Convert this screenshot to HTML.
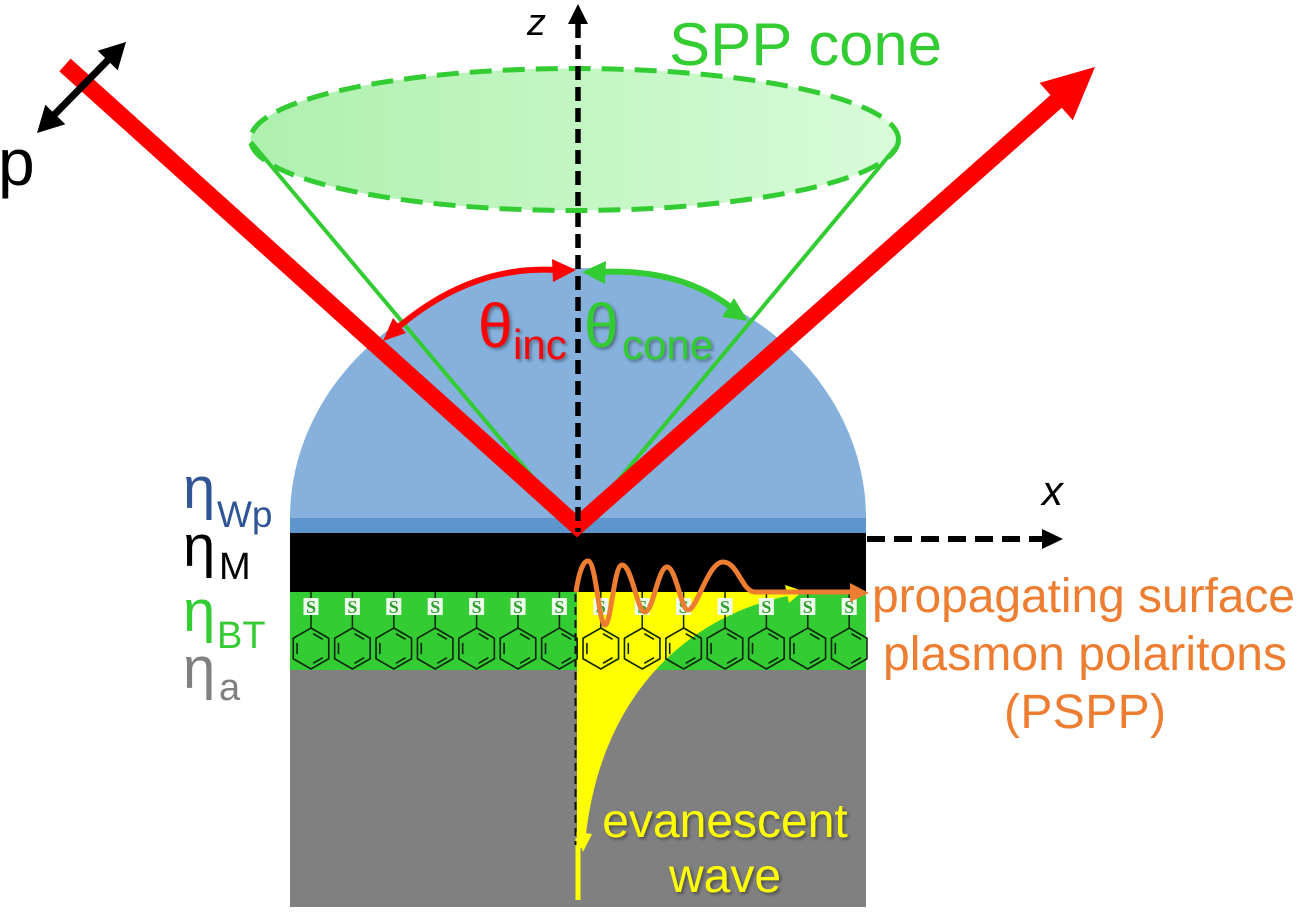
<!DOCTYPE html>
<html>
<head>
<meta charset="utf-8">
<style>
  html, body { margin: 0; padding: 0; background: #ffffff; }
  svg { display: block; }
  text { font-family: "Liberation Sans", Arial, sans-serif; }
</style>
</head>
<body>
<svg width="1300" height="912" viewBox="0 0 1300 912" xmlns="http://www.w3.org/2000/svg">
  <defs>
    <linearGradient id="coneg" x1="0" y1="0" x2="1" y2="0">
      <stop offset="0" stop-color="#aef0ae"/>
      <stop offset="1" stop-color="#d9fbd9"/>
    </linearGradient>
    <filter id="sh" x="-20%" y="-20%" width="140%" height="140%">
      <feDropShadow dx="2" dy="2" stdDeviation="1.5" flood-color="#000" flood-opacity="0.4"/>
    </filter>
    <g id="ring" fill="none" stroke="#0c240c" stroke-width="1.6">
      <polygon points="0,-20.5 17.75,-10.25 17.75,10.25 0,20.5 -17.75,10.25 -17.75,-10.25"/>
      <line x1="2.1" y1="-14.8" x2="11.8" y2="-9.2"/>
      <line x1="11.8" y1="9.2" x2="2.1" y2="14.8"/>
      <line x1="-13.9" y1="5.6" x2="-13.9" y2="-5.6"/>
    </g>
  </defs>

  <!-- Hemisphere prism -->
  <path d="M 290 518 A 288 250 0 0 1 866 518 Z" fill="#86b1dc"/>
  <rect x="290" y="518" width="576" height="15" fill="#5f95cd"/>
  <!-- Metal layer -->
  <rect x="290" y="533" width="576" height="59" fill="#000000"/>
  <!-- BT layer -->
  <rect x="290" y="592" width="576" height="78" fill="#33cc33"/>
  <!-- analyte -->
  <rect x="290" y="670" width="576" height="237" fill="#808080"/>

  <!-- Evanescent yellow region -->
  <path d="M 577 592 L 792 592 C 700 610 600 680 582 848 L 577 848 Z" fill="#ffff00"/>
  <path d="M 790 593 C 700 610 600 680 583 838" fill="none" stroke="#ffff00" stroke-width="5"/>
  <polygon points="803,591 785,585 789,603" fill="#ffff00"/>
  <polygon points="583,852 575,832 592,834" fill="#ffff00"/>
  <line x1="578" y1="838" x2="578" y2="900" stroke="#ffff00" stroke-width="5"/>
  <!-- thin dashed axis below -->
  <line x1="575.5" y1="594" x2="575.5" y2="845" stroke="#111" stroke-width="2" stroke-dasharray="8 5"/>

  <!-- Molecules -->
  <g>
    <g stroke="#0c240c" stroke-width="1.5">
      <line x1="311" y1="592" x2="311" y2="628"/>
      <line x1="352.4" y1="592" x2="352.4" y2="628"/>
      <line x1="393.8" y1="592" x2="393.8" y2="628"/>
      <line x1="435.2" y1="592" x2="435.2" y2="628"/>
      <line x1="476.6" y1="592" x2="476.6" y2="628"/>
      <line x1="518" y1="592" x2="518" y2="628"/>
      <line x1="559.4" y1="592" x2="559.4" y2="628"/>
      <line x1="600.8" y1="592" x2="600.8" y2="628"/>
      <line x1="642.2" y1="592" x2="642.2" y2="628"/>
      <line x1="683.6" y1="592" x2="683.6" y2="628"/>
      <line x1="725" y1="592" x2="725" y2="628"/>
      <line x1="766.4" y1="592" x2="766.4" y2="628"/>
      <line x1="807.8" y1="592" x2="807.8" y2="628"/>
      <line x1="849.2" y1="592" x2="849.2" y2="628"/>
    </g>
    <use href="#ring" x="311" y="648.5"/>
    <use href="#ring" x="352.4" y="648.5"/>
    <use href="#ring" x="393.8" y="648.5"/>
    <use href="#ring" x="435.2" y="648.5"/>
    <use href="#ring" x="476.6" y="648.5"/>
    <use href="#ring" x="518" y="648.5"/>
    <use href="#ring" x="559.4" y="648.5"/>
    <use href="#ring" x="600.8" y="648.5"/>
    <use href="#ring" x="642.2" y="648.5"/>
    <use href="#ring" x="683.6" y="648.5"/>
    <use href="#ring" x="725" y="648.5"/>
    <use href="#ring" x="766.4" y="648.5"/>
    <use href="#ring" x="807.8" y="648.5"/>
    <use href="#ring" x="849.2" y="648.5"/>
    <g fill="#eefcee">
      <rect x="303.5" y="598" width="15" height="17"/>
      <rect x="344.9" y="598" width="15" height="17"/>
      <rect x="386.3" y="598" width="15" height="17"/>
      <rect x="427.7" y="598" width="15" height="17"/>
      <rect x="469.1" y="598" width="15" height="17"/>
      <rect x="510.5" y="598" width="15" height="17"/>
      <rect x="551.9" y="598" width="15" height="17"/>
      <rect x="593.3" y="598" width="15" height="17"/>
      <rect x="634.7" y="598" width="15" height="17"/>
      <rect x="676.1" y="598" width="15" height="17"/>
      <rect x="717.5" y="598" width="15" height="17"/>
      <rect x="758.9" y="598" width="15" height="17"/>
      <rect x="800.3" y="598" width="15" height="17"/>
      <rect x="841.7" y="598" width="15" height="17"/>
    </g>
    <g fill="#2e9e2e" font-weight="bold" font-size="18" text-anchor="middle">
      <text x="311" y="613" style="font-family:'Liberation Serif',serif">S</text>
      <text x="352.4" y="613" style="font-family:'Liberation Serif',serif">S</text>
      <text x="393.8" y="613" style="font-family:'Liberation Serif',serif">S</text>
      <text x="435.2" y="613" style="font-family:'Liberation Serif',serif">S</text>
      <text x="476.6" y="613" style="font-family:'Liberation Serif',serif">S</text>
      <text x="518" y="613" style="font-family:'Liberation Serif',serif">S</text>
      <text x="559.4" y="613" style="font-family:'Liberation Serif',serif">S</text>
      <text x="600.8" y="613" style="font-family:'Liberation Serif',serif">S</text>
      <text x="642.2" y="613" style="font-family:'Liberation Serif',serif">S</text>
      <text x="683.6" y="613" style="font-family:'Liberation Serif',serif">S</text>
      <text x="725" y="613" style="font-family:'Liberation Serif',serif">S</text>
      <text x="766.4" y="613" style="font-family:'Liberation Serif',serif">S</text>
      <text x="807.8" y="613" style="font-family:'Liberation Serif',serif">S</text>
      <text x="849.2" y="613" style="font-family:'Liberation Serif',serif">S</text>
    </g>
  </g>

  <!-- Orange PSPP wave -->
  <path d="M 576 592 C 579 572, 583 561, 588 561 C 596 561, 599 625, 605 625 C 611 625, 614 565, 622 565 C 632 565, 637 612, 645 612 C 653 612, 658 567, 667 567 C 676 567, 681 610, 688 610 C 697 610, 708 562, 723 562 C 738 562, 742 592, 755 592 L 852 592" fill="none" stroke="#ed7d31" stroke-width="5" stroke-linejoin="round"/>
  <polygon points="869,593 850,583 850,602" fill="#ed7d31"/>

  <!-- SPP cone ellipse -->
  <ellipse cx="574.5" cy="139.5" rx="324" ry="71" fill="url(#coneg)" stroke="#33cc33" stroke-width="5" stroke-dasharray="22 11"/>
  <!-- cone lines -->
  <line x1="251" y1="142" x2="573" y2="525" stroke="#33cc33" stroke-width="4"/>
  <line x1="897" y1="146" x2="581" y2="525" stroke="#33cc33" stroke-width="4"/>

  <!-- Red beams -->
  <polyline points="65,65 577,526 1060,98" fill="none" stroke="#ff0000" stroke-width="17" stroke-linejoin="miter" stroke-miterlimit="10"/>
  <polygon points="1095,67 1039.6,82.9 1072.8,120.3" fill="#ff0000"/>

  <!-- polarization arrow -->
  <line x1="54" y1="115" x2="109" y2="59" stroke="#000" stroke-width="7"/>
  <polygon points="126,42 117.7,70.3 97.7,50.7" fill="#000"/>
  <polygon points="37,133 65.3,124.3 45.3,104.7" fill="#000"/>

  <!-- Red angle arc -->
  <path d="M 395 330 Q 470 265 556 270" fill="none" stroke="#ff0000" stroke-width="6"/>
  <polygon points="383,341 393,318 406,333" fill="#ff0000"/>
  <polygon points="576,270 552,259 553,282" fill="#ff0000"/>
  <!-- Green angle arc -->
  <path d="M 600 272 Q 680 268 732 308" fill="none" stroke="#33cc33" stroke-width="6"/>
  <polygon points="582,272 606,261 605,284" fill="#33cc33"/>
  <polygon points="748,321 722,317 734,298" fill="#33cc33"/>

  <!-- z axis -->
  <line x1="578" y1="24" x2="578" y2="532" stroke="#000" stroke-width="5.5" stroke-dasharray="14 7"/>
  <polygon points="578,4 568,24 588,24" fill="#000"/>
  <!-- x axis -->
  <line x1="867" y1="539" x2="1044" y2="539" stroke="#000" stroke-width="6" stroke-dasharray="18 9"/>
  <polygon points="1063,539 1042,529 1042,549" fill="#000"/>

  <!-- labels -->
  <text x="527" y="35" font-size="38" font-style="italic" fill="#000">z</text>
  <text x="1042" y="505" font-size="42" font-style="italic" fill="#000">x</text>
  <text x="669" y="65" font-size="60" fill="#33cc33" textLength="273" lengthAdjust="spacingAndGlyphs">SPP cone</text>
  <text x="-2" y="185" font-size="66" fill="#000">p</text>

  <g filter="url(#sh)">
    <text x="478" y="347" font-size="62" fill="#ff0000">θ</text>
    <text x="513" y="359" font-size="42" fill="#ff0000">inc</text>
    <text x="584" y="347" font-size="62" fill="#33cc33">θ</text>
    <text x="622" y="359" font-size="42" fill="#33cc33">cone</text>
  </g>

  <!-- refractive index labels -->
  <text x="183" y="508" font-size="58" fill="#2f5597">η</text>
  <text x="217" y="527" font-size="37" fill="#2f5597">Wp</text>
  <text x="183" y="566" font-size="58" fill="#000">η</text>
  <text x="219" y="579" font-size="38" fill="#000">M</text>
  <text x="183" y="631" font-size="58" fill="#33cc33">η</text>
  <text x="217" y="648" font-size="38" fill="#33cc33">BT</text>
  <text x="183" y="688" font-size="58" fill="#808080">η</text>
  <text x="219" y="700" font-size="38" fill="#808080">a</text>

  <!-- PSPP text -->
  <text x="872" y="612" font-size="48" fill="#ed7d31" textLength="423">propagating surface</text>
  <text x="883" y="670" font-size="48" fill="#ed7d31" textLength="404">plasmon polaritons</text>
  <text x="1004" y="728" font-size="48" fill="#ed7d31" textLength="162">(PSPP)</text>

  <!-- evanescent wave text -->
  <g filter="url(#sh)">
    <text x="725" y="837" font-size="48" fill="#ffff00" text-anchor="middle">evanescent</text>
    <text x="725" y="892" font-size="48" fill="#ffff00" text-anchor="middle">wave</text>
  </g>
</svg>
</body>
</html>
